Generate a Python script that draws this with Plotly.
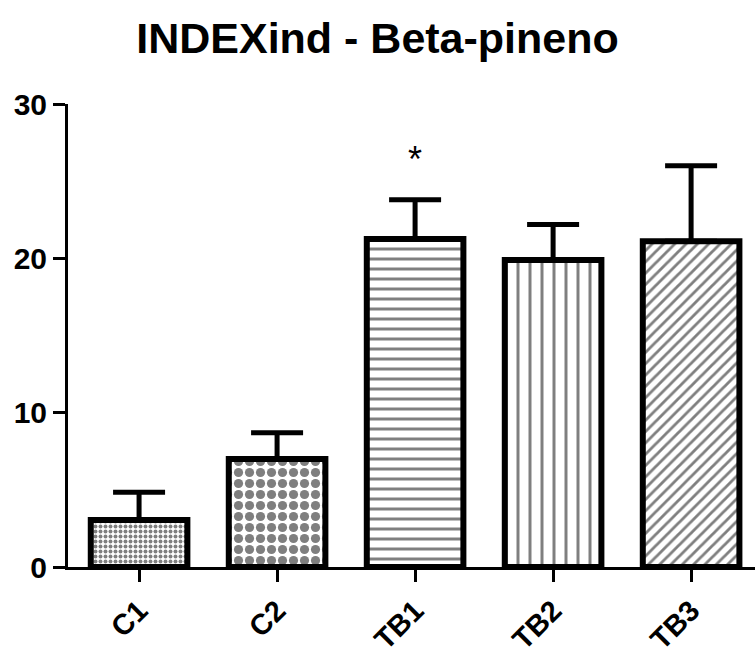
import plotly.graph_objects as go

categories = ["C1", "C2", "TB1", "TB2", "TB3"]
means = [3.05, 7.0, 21.25, 19.9, 21.1]
errors = [1.8, 1.7, 2.55, 2.3, 4.9]
patterns = [".", ".", "-", "|", "/"]
pattern_sizes = [5, 11, 10, 12, 8]
pattern_solidity = [0.5, 0.55, 0.3, 0.25, 0.35]
y_ticks = [0, 10, 20, 30]

fig = go.Figure()
fig.add_trace(go.Bar(
    x=categories, y=means, width=0.7,
    marker=dict(
        color="white",
        line=dict(color="black", width=6),
        pattern=dict(shape=patterns, size=pattern_sizes, solidity=pattern_solidity,
                     fgcolor="black", bgcolor="white", fillmode="overlay"),
    ),
    error_y=dict(type="data", symmetric=False, array=errors,
                 arrayminus=[0] * len(errors), color="black", thickness=5, width=26),
    showlegend=False,
))

fig.add_annotation(x="TB1", y=means[2] + errors[2], yref="y", text="*",
                   showarrow=False, yanchor="bottom", yshift=18,
                   font=dict(family="Liberation Sans", size=36, color="black"))

fig.update_layout(
    width=755, height=656,
    margin=dict(l=68, r=0, t=104, b=89),
    paper_bgcolor="white", plot_bgcolor="white",
    title=dict(text="INDEXind - Beta-pineno", x=0.5, xanchor="center",
               y=0.942, yanchor="middle",
               font=dict(family="Liberation Sans", size=43, color="black", weight="bold")),
    font=dict(family="Liberation Sans", color="black"),
    bargap=0.3,
)
fig.update_xaxes(
    range=[-0.515, 4.463], showline=True, linecolor="black", linewidth=3,
    ticks="outside", ticklen=12, tickwidth=3, tickcolor="black",
    tickangle=-45, tickfont=dict(size=29, family="Liberation Sans", weight="bold"),
    showgrid=False, zeroline=False,
)
fig.update_yaxes(
    range=[0, 30], tickvals=y_ticks, showline=True, linecolor="black", linewidth=3,
    ticks="outside", ticklen=12, tickwidth=3, tickcolor="black",
    tickfont=dict(size=30, family="Liberation Sans", weight="bold"),
    showgrid=False, zeroline=False,
)

fig.write_html("out.html", config={"displayModeBar": False},
               post_script="document.body.style.margin='0';")
